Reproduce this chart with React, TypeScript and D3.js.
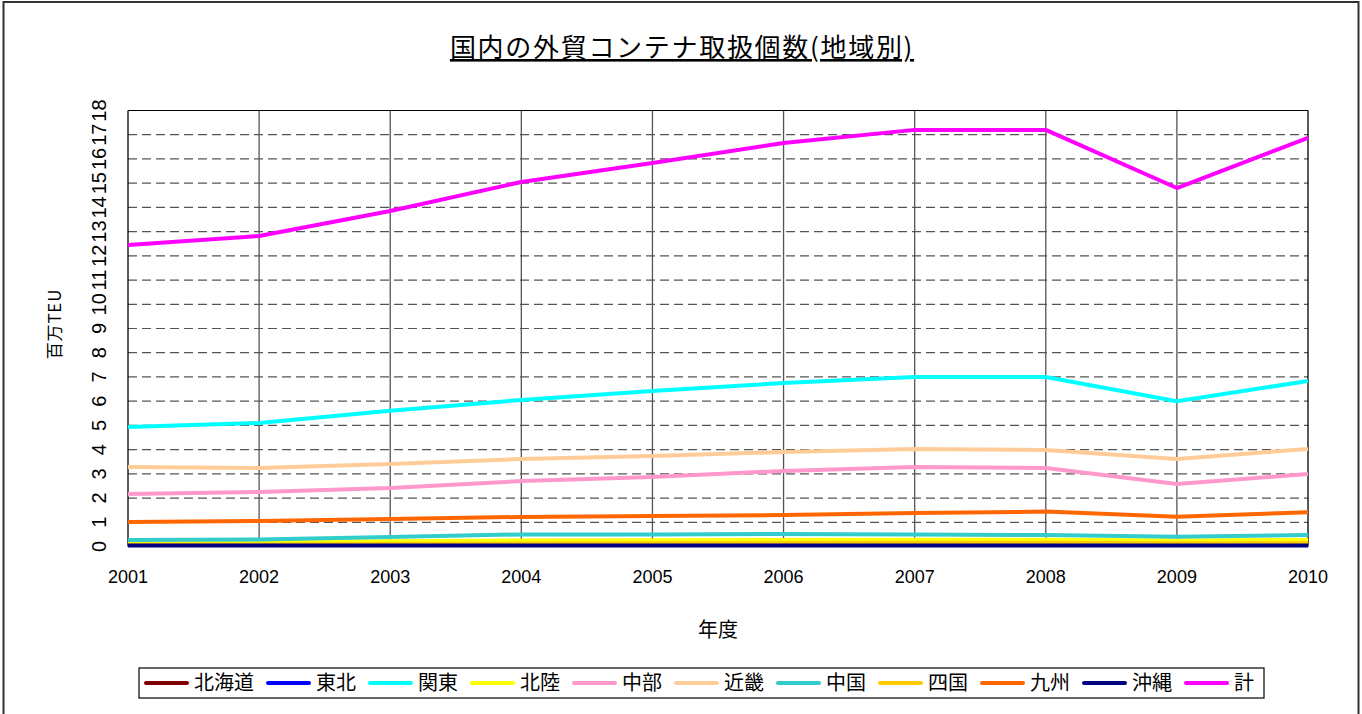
import React from "react";
import * as d3 from "d3";

const years = [2001, 2002, 2003, 2004, 2005, 2006, 2007, 2008, 2009, 2010];
const yTicks = d3.range(0, 19);
const seriesNames = ["北海道", "東北", "関東", "北陸", "中部", "近畿", "中国", "四国", "九州", "沖縄", "計"];
const seriesColors = ["#800000", "#0000FF", "#00FFFF", "#FFFF00", "#FF99CC", "#FFCC99", "#33CCCC", "#FFCC00", "#FF6600", "#000080", "#FF00FF"];

const hokkaido = [0.12, 0.12, 0.13, 0.14, 0.14, 0.15, 0.15, 0.15, 0.13, 0.14];
const tohoku = [0.1, 0.1, 0.11, 0.12, 0.12, 0.13, 0.13, 0.13, 0.11, 0.12];
const kanto = [4.93, 5.1, 5.6, 6.05, 6.42, 6.75, 7.0, 7.0, 6.0, 6.83];
const hokuriku = [0.18, 0.19, 0.22, 0.25, 0.26, 0.27, 0.28, 0.28, 0.25, 0.27];
const chubu = [2.17, 2.25, 2.42, 2.7, 2.87, 3.12, 3.28, 3.24, 2.58, 2.99];
const kinki = [3.28, 3.24, 3.41, 3.61, 3.74, 3.9, 4.03, 3.98, 3.61, 4.03];
const chugoku = [0.27, 0.29, 0.39, 0.5, 0.5, 0.52, 0.5, 0.47, 0.4, 0.47];
const shikoku = [0.07, 0.08, 0.1, 0.12, 0.13, 0.14, 0.15, 0.15, 0.13, 0.14];
const kyushu = [1.01, 1.05, 1.14, 1.22, 1.26, 1.3, 1.38, 1.44, 1.23, 1.41];
const okinawa = [0.04, 0.04, 0.04, 0.04, 0.04, 0.04, 0.04, 0.04, 0.04, 0.04];
const total = [12.45, 12.82, 13.85, 15.05, 15.83, 16.66, 17.2, 17.2, 14.8, 16.87];

const seriesValues = [hokkaido, tohoku, kanto, hokuriku, chubu, kinki, chugoku, shikoku, kyushu, okinawa, total];

const W = 1362;
const H = 714;
const plot = { left: 128, right: 1308, top: 110.5, bottom: 546.5 };
const CJK = "'Noto Sans CJK JP', 'Noto Sans', sans-serif";
const LAT = "'Liberation Sans', Arial, sans-serif";

export default function App() {
  const x = d3.scaleLinear().domain([2001, 2010]).range([plot.left, plot.right]);
  const y = d3.scaleLinear().domain([0, 18]).range([plot.bottom, plot.top]);
  const line = d3
    .line<number>()
    .x((_, i) => x(years[i]))
    .y((d) => y(d));

  // legend layout
  const legFont = 20;
  const legLine = 45;
  const legGap1 = 5;
  const legGap2 = 12;
  let cx = 144;
  const legendItems = seriesNames.map((name, i) => {
    const item = { name, color: seriesColors[i], x: cx };
    cx += legLine + legGap1 + name.length * legFont + legGap2;
    return item;
  });
  const legY = 683;

  return (
    <svg
      width={W}
      height={H}
      style={{ position: "fixed", left: 0, top: 0, background: "#fff" }}
    >
      <rect x={0} y={0} width={W} height={H} fill="#fff" />
      <rect x={3.5} y={2} width={1355} height={730} fill="none" stroke="#333" strokeWidth={2} />

      <text
        x={682}
        y={57}
        textAnchor="middle"
        fontFamily={CJK}
        fontSize={26}
        letterSpacing={1.7}
        textDecoration="underline"
        fill="#000"
      >
        国内の外貿コンテナ取扱個数(地域別)
      </text>

      {/* horizontal dashed gridlines */}
      {yTicks
        .filter((t) => t > 0 && t < 18)
        .map((t) => (
          <line
            key={"h" + t}
            x1={plot.left}
            x2={plot.right}
            y1={y(t)}
            y2={y(t)}
            stroke="#555"
            strokeWidth={1.2}
            strokeDasharray="9 5"
          />
        ))}
      {/* vertical gridlines */}
      {years.slice(1, -1).map((yr) => (
        <line
          key={"v" + yr}
          x1={x(yr)}
          x2={x(yr)}
          y1={plot.top}
          y2={plot.bottom}
          stroke="#555"
          strokeWidth={1.3}
        />
      ))}
      {/* plot frame */}
      <line x1={plot.left} x2={plot.right} y1={plot.top} y2={plot.top} stroke="#000" strokeWidth={1} />
      <line x1={plot.right} x2={plot.right} y1={plot.top} y2={plot.bottom} stroke="#000" strokeWidth={1.3} />
      <line x1={plot.left} x2={plot.left} y1={plot.top} y2={plot.bottom} stroke="#000" strokeWidth={1.3} />
      <line x1={plot.left} x2={plot.right} y1={plot.bottom} y2={plot.bottom} stroke="#000" strokeWidth={1} />

      {/* series */}
      {seriesValues.map((vals, i) => (
        <path
          key={seriesNames[i]}
          d={line(vals) || ""}
          fill="none"
          stroke={seriesColors[i]}
          strokeWidth={4}
          strokeLinejoin="round"
        />
      ))}

      {/* y tick labels */}
      {yTicks.map((t) => (
        <text
          key={"yt" + t}
          transform={`translate(${106},${y(t)}) rotate(-90)`}
          textAnchor="middle"
          fontFamily={LAT}
          fontSize={20}
          fill="#000"
        >
          {t}
        </text>
      ))}
      {/* x tick labels */}
      {years.map((yr) => (
        <text
          key={"xt" + yr}
          x={x(yr)}
          y={583}
          textAnchor="middle"
          fontFamily={LAT}
          fontSize={18}
          fill="#000"
        >
          {yr}
        </text>
      ))}

      {/* axis titles */}
      <text x={718} y={637} textAnchor="middle" fontFamily={CJK} fontSize={20} fill="#000">
        年度
      </text>
      <text
        transform={`translate(61,324) rotate(-90)`}
        textAnchor="middle"
        fontFamily={CJK}
        fontSize={17}
        letterSpacing={0.8}
        fill="#000"
      >
        百万TEU
      </text>

      {/* legend */}
      <rect x={139} y={668} width={1125} height={30} fill="#fff" stroke="#000" strokeWidth={1.2} />
      {legendItems.map((it) => (
        <g key={"lg" + it.name}>
          <line
            x1={it.x + 2}
            x2={it.x + legLine - 2}
            y1={legY}
            y2={legY}
            stroke={it.color}
            strokeWidth={4}
            strokeLinecap="round"
          />
          <text
            x={it.x + legLine + legGap1}
            y={legY + 7}
            fontFamily={CJK}
            fontSize={legFont}
            fill="#000"
          >
            {it.name}
          </text>
        </g>
      ))}
    </svg>
  );
}
